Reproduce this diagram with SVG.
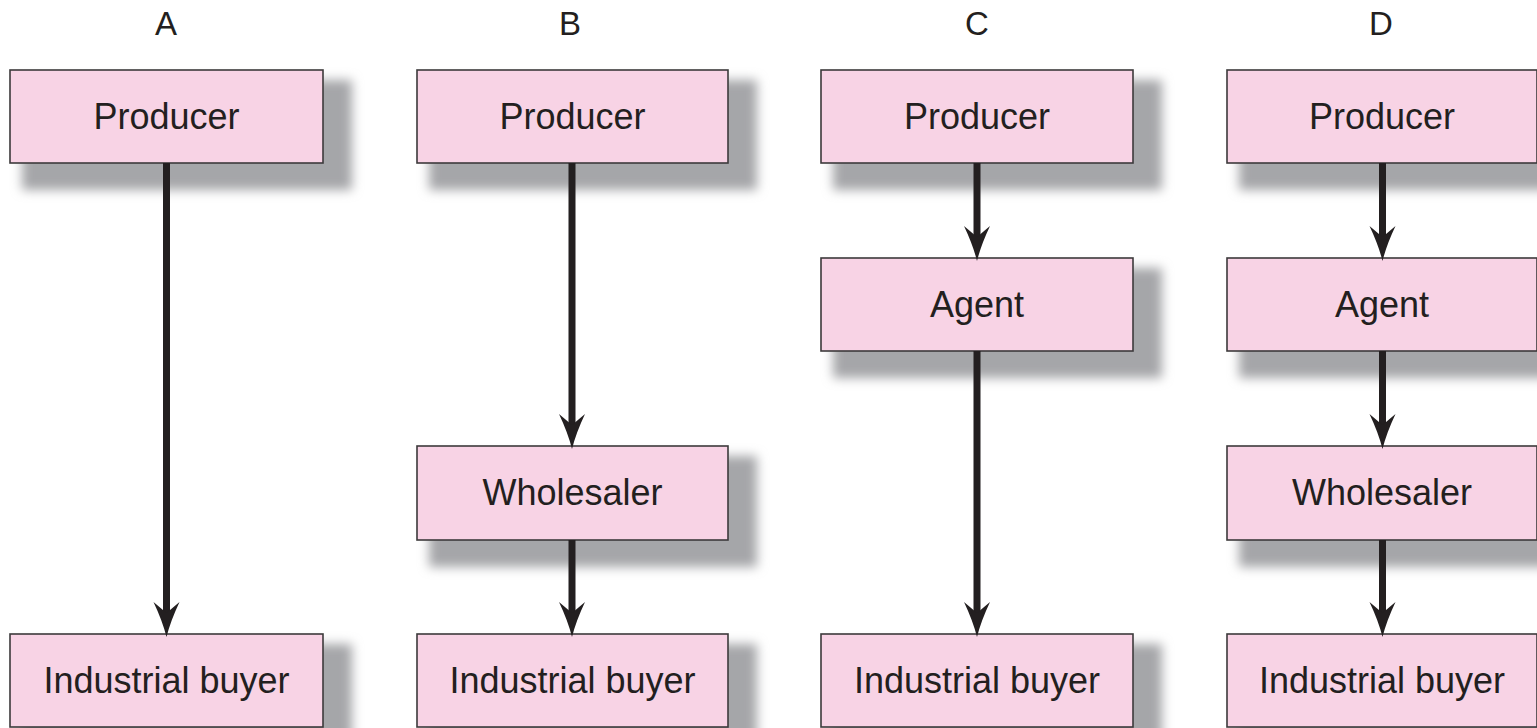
<svg xmlns="http://www.w3.org/2000/svg" width="1537" height="728" viewBox="0 0 1537 728">
<style>
.box{fill:#f8d3e5;stroke:#3c3a3b;stroke-width:1.6}
.sh{fill:#a5a6a9;filter:url(#blur)}
.t{font-family:"Liberation Sans",Arial,sans-serif;font-size:36px;fill:#231f20;text-anchor:middle}
.h{font-family:"Liberation Sans",Arial,sans-serif;font-size:33px;fill:#231f20;text-anchor:middle}
.c{stroke:#231f20;stroke-width:7;fill:none;marker-end:url(#ah)}
</style>
<defs>
<filter id="blur" x="-20%" y="-40%" width="140%" height="180%"><feGaussianBlur stdDeviation="5.5"/></filter>
<marker id="ah" markerUnits="userSpaceOnUse" orient="auto" refX="0" refY="0" markerWidth="40" markerHeight="30" overflow="visible">
<path d="M24,0 Q8,-4 -11,-13 L0,0 L-11,13 Q8,4 24,0 Z" fill="#231f20"/>
</marker>
</defs>
<rect width="1537" height="728" fill="#ffffff"/>
<g id="labels">
<text class="h" x="166" y="35">A</text>
<text class="h" x="570" y="35">B</text>
<text class="h" x="977" y="35">C</text>
<text class="h" x="1381" y="35">D</text>
</g>
<g id="A-producer"><rect class="sh" x="22" y="80" width="330" height="110"/><rect class="box" x="10" y="70" width="313" height="93"/><text class="t" x="166.5" y="129">Producer</text></g>
<g id="A-buyer"><rect class="sh" x="22" y="644" width="330" height="110"/><rect class="box" x="10" y="634" width="313" height="93"/><text class="t" x="166.5" y="693">Industrial buyer</text></g>
<g id="B-producer"><rect class="sh" x="429" y="80" width="328" height="110"/><rect class="box" x="417" y="70" width="311" height="93"/><text class="t" x="572.5" y="129">Producer</text></g>
<g id="B-wholesaler"><rect class="sh" x="429" y="456" width="328" height="111"/><rect class="box" x="417" y="446" width="311" height="94"/><text class="t" x="572.5" y="505">Wholesaler</text></g>
<g id="B-buyer"><rect class="sh" x="429" y="644" width="328" height="110"/><rect class="box" x="417" y="634" width="311" height="93"/><text class="t" x="572.5" y="693">Industrial buyer</text></g>
<g id="C-producer"><rect class="sh" x="833" y="80" width="329" height="110"/><rect class="box" x="821" y="70" width="312" height="93"/><text class="t" x="977" y="129">Producer</text></g>
<g id="C-agent"><rect class="sh" x="833" y="268" width="329" height="110"/><rect class="box" x="821" y="258" width="312" height="93"/><text class="t" x="977" y="317">Agent</text></g>
<g id="C-buyer"><rect class="sh" x="833" y="644" width="329" height="110"/><rect class="box" x="821" y="634" width="312" height="93"/><text class="t" x="977" y="693">Industrial buyer</text></g>
<g id="D-producer"><rect class="sh" x="1239" y="80" width="327" height="110"/><rect class="box" x="1227" y="70" width="310" height="93"/><text class="t" x="1382" y="129">Producer</text></g>
<g id="D-agent"><rect class="sh" x="1239" y="268" width="327" height="110"/><rect class="box" x="1227" y="258" width="310" height="93"/><text class="t" x="1382" y="317">Agent</text></g>
<g id="D-wholesaler"><rect class="sh" x="1239" y="456" width="327" height="111"/><rect class="box" x="1227" y="446" width="310" height="94"/><text class="t" x="1382" y="505">Wholesaler</text></g>
<g id="D-buyer"><rect class="sh" x="1239" y="644" width="327" height="110"/><rect class="box" x="1227" y="634" width="310" height="93"/><text class="t" x="1382" y="693">Industrial buyer</text></g>
<g id="connectors">
<line class="c" x1="166.5" y1="163" x2="166.5" y2="613"/>
<line class="c" x1="572" y1="163" x2="572" y2="425"/>
<line class="c" x1="572" y1="540" x2="572" y2="613"/>
<line class="c" x1="977" y1="163" x2="977" y2="237"/>
<line class="c" x1="977" y1="351" x2="977" y2="613"/>
<line class="c" x1="1382.5" y1="163" x2="1382.5" y2="237"/>
<line class="c" x1="1382.5" y1="351" x2="1382.5" y2="425"/>
<line class="c" x1="1382.5" y1="540" x2="1382.5" y2="613"/>
</g>
</svg>
